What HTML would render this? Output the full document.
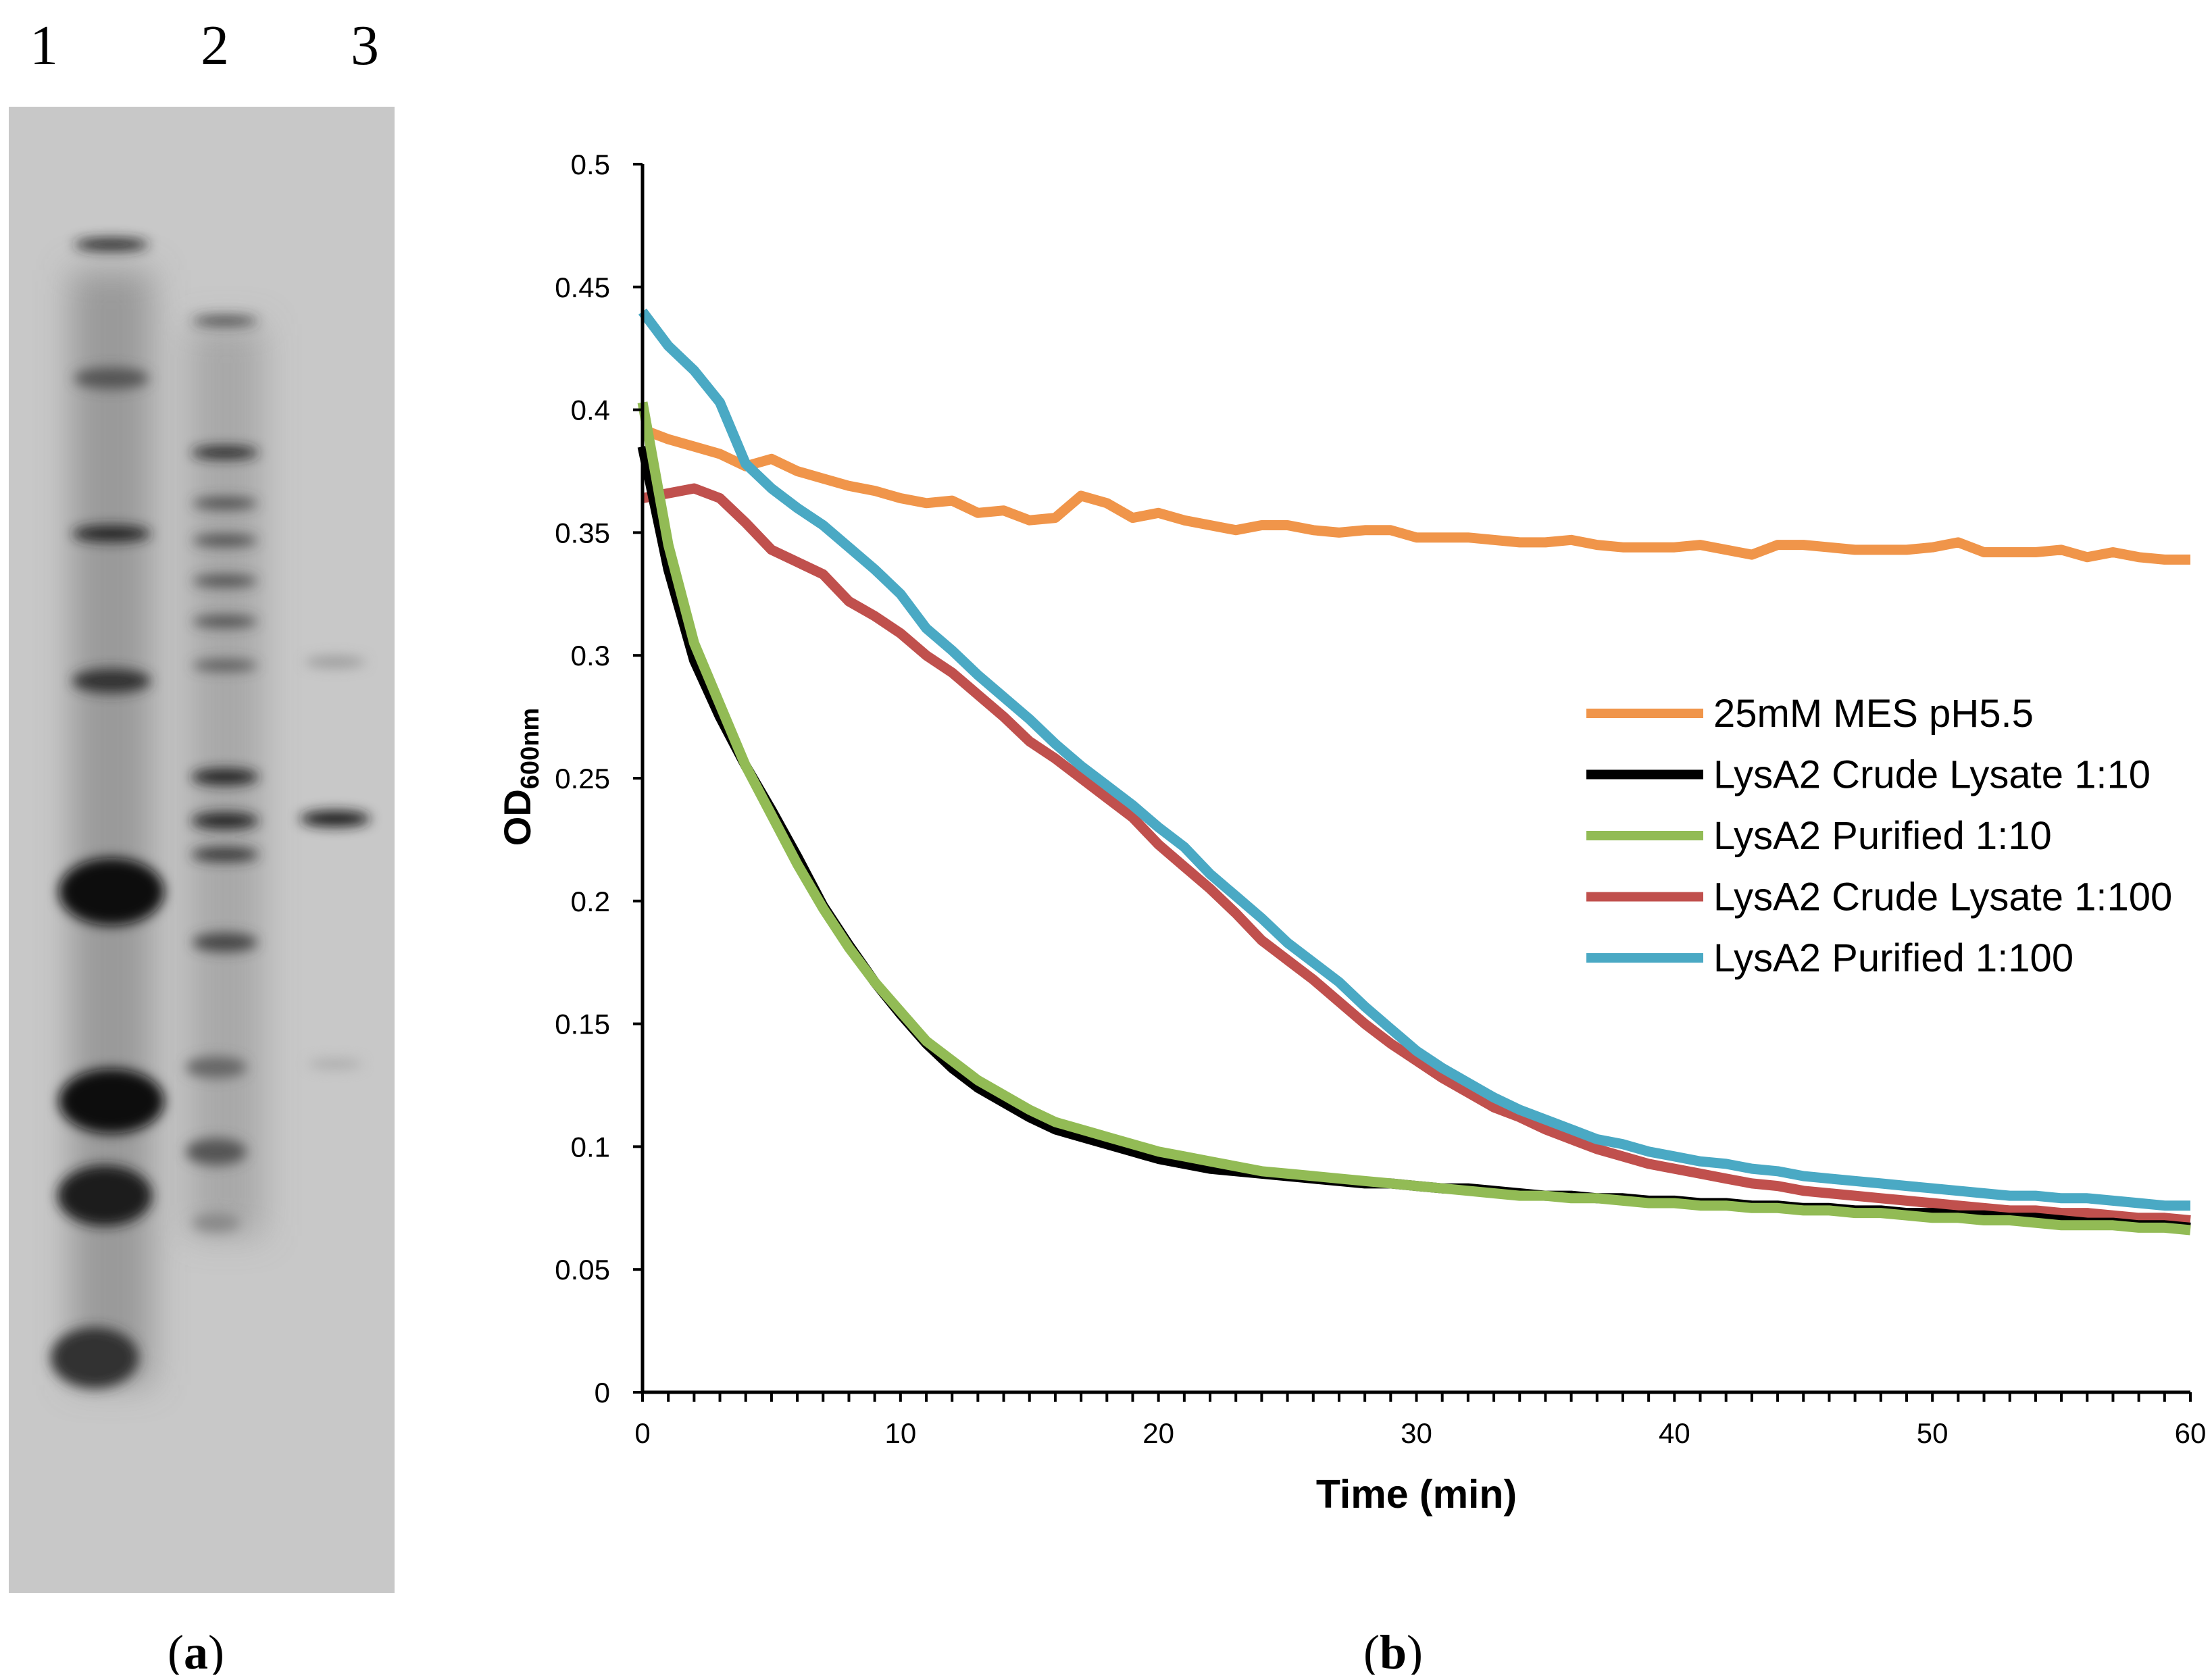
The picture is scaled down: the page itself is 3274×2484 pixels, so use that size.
<!DOCTYPE html>
<html><head><meta charset="utf-8"><style>
body{margin:0;background:#fff;width:3274px;height:2479px;overflow:hidden;font-family:"Liberation Sans",sans-serif}
</style></head><body>
<svg width="3274" height="2479" viewBox="0 0 3274 2479">
<defs>
<filter id="blur" x="-50%" y="-50%" width="200%" height="200%"><feGaussianBlur stdDeviation="9"/></filter>
<filter id="blur2" x="-50%" y="-50%" width="200%" height="200%"><feGaussianBlur stdDeviation="25"/></filter>
</defs>
<g>
<rect x="13" y="158" width="571" height="2200" fill="#c8c8c8"/>
<g filter="url(#blur2)">
<rect x="105" y="400" width="120" height="1650" fill="#7a7a7a" opacity="0.6"/>
<rect x="280" y="480" width="110" height="1350" fill="#8a8a8a" opacity="0.5"/>
</g>
<g filter="url(#blur)">
<ellipse cx="165" cy="362" rx="55" ry="9" fill="#222"/>
<ellipse cx="165" cy="560" rx="55" ry="16" fill="#555"/>
<ellipse cx="165" cy="790" rx="58" ry="12" fill="#222"/>
<ellipse cx="165" cy="1008" rx="58" ry="18" fill="#333"/>
<ellipse cx="165" cy="1320" rx="78" ry="50" fill="#111"/>
<ellipse cx="165" cy="1630" rx="78" ry="48" fill="#0a0a0a"/>
<ellipse cx="155" cy="1770" rx="70" ry="45" fill="#1a1a1a"/>
<ellipse cx="140" cy="2010" rx="65" ry="45" fill="#333"/>
<ellipse cx="333" cy="475" rx="48" ry="6" fill="#333"/>
<ellipse cx="333" cy="670" rx="50" ry="9" fill="#222"/>
<ellipse cx="333" cy="745" rx="48" ry="8" fill="#444"/>
<ellipse cx="333" cy="800" rx="48" ry="8" fill="#444"/>
<ellipse cx="333" cy="860" rx="48" ry="8" fill="#444"/>
<ellipse cx="333" cy="920" rx="48" ry="8" fill="#444"/>
<ellipse cx="333" cy="985" rx="48" ry="8" fill="#555"/>
<ellipse cx="333" cy="1150" rx="50" ry="12" fill="#222"/>
<ellipse cx="333" cy="1215" rx="50" ry="12" fill="#222"/>
<ellipse cx="333" cy="1265" rx="50" ry="10" fill="#333"/>
<ellipse cx="333" cy="1395" rx="48" ry="14" fill="#444"/>
<ellipse cx="320" cy="1580" rx="45" ry="16" fill="#666"/>
<ellipse cx="320" cy="1705" rx="45" ry="20" fill="#555"/>
<ellipse cx="320" cy="1810" rx="35" ry="14" fill="#888"/>
<ellipse cx="496" cy="980" rx="45" ry="8" fill="#999"/>
<ellipse cx="496" cy="1212" rx="52" ry="12" fill="#1a1a1a"/>
<ellipse cx="496" cy="1575" rx="40" ry="7" fill="#aaa"/>
</g>
<text x="65" y="95" font-family="Liberation Serif" font-size="84" text-anchor="middle">1</text>
<text x="318" y="95" font-family="Liberation Serif" font-size="84" text-anchor="middle">2</text>
<text x="540" y="95" font-family="Liberation Serif" font-size="84" text-anchor="middle">3</text>
<text x="290" y="2470" font-family="Liberation Serif" font-size="72" text-anchor="middle">(<tspan font-weight="bold">a</tspan>)</text>
<text x="2062" y="2470" font-family="Liberation Serif" font-size="72" text-anchor="middle">(<tspan font-weight="bold">b</tspan>)</text>
</g>
<g id="chart"></g>
</svg>
<script>
const times = Array.from({length:61},(_,i)=>i);
const seriesNames = ["25mM MES pH5.5","LysA2 Crude Lysate 1:10","LysA2 Purified 1:10","LysA2 Crude Lysate 1:100","LysA2 Purified 1:100"];
const mesValues = [0.392,0.388,0.385,0.382,0.377,0.380,0.375,0.372,0.369,0.367,0.364,0.362,0.363,0.358,0.359,0.355,0.356,0.365,0.362,0.356,0.358,0.355,0.353,0.351,0.353,0.353,0.351,0.350,0.351,0.351,0.348,0.348,0.348,0.347,0.346,0.346,0.347,0.345,0.344,0.344,0.344,0.345,0.343,0.341,0.345,0.345,0.344,0.343,0.343,0.343,0.344,0.346,0.342,0.342,0.342,0.343,0.340,0.342,0.340,0.339,0.339];
const crude10Values = [0.385,0.335,0.298,0.275,0.255,0.237,0.218,0.198,0.182,0.167,0.154,0.142,0.132,0.124,0.118,0.112,0.107,0.104,0.101,0.098,0.095,0.093,0.091,0.090,0.089,0.088,0.087,0.086,0.085,0.085,0.084,0.083,0.083,0.082,0.081,0.080,0.080,0.079,0.079,0.078,0.078,0.077,0.077,0.076,0.076,0.075,0.075,0.074,0.074,0.073,0.073,0.072,0.072,0.071,0.071,0.070,0.069,0.069,0.068,0.068,0.067];
const pure10Values = [0.403,0.345,0.305,0.280,0.255,0.235,0.215,0.197,0.181,0.167,0.155,0.143,0.135,0.127,0.121,0.115,0.110,0.107,0.104,0.101,0.098,0.096,0.094,0.092,0.090,0.089,0.088,0.087,0.086,0.085,0.084,0.083,0.082,0.081,0.080,0.080,0.079,0.079,0.078,0.077,0.077,0.076,0.076,0.075,0.075,0.074,0.074,0.073,0.073,0.072,0.071,0.071,0.070,0.070,0.069,0.068,0.068,0.068,0.067,0.067,0.066];
const crude100Values = [0.364,0.366,0.368,0.364,0.354,0.343,0.338,0.333,0.322,0.316,0.309,0.300,0.293,0.284,0.275,0.265,0.258,0.250,0.242,0.234,0.223,0.214,0.205,0.195,0.184,0.176,0.168,0.159,0.150,0.142,0.135,0.128,0.122,0.116,0.112,0.107,0.103,0.099,0.096,0.093,0.091,0.089,0.087,0.085,0.084,0.082,0.081,0.080,0.079,0.078,0.077,0.076,0.075,0.074,0.074,0.073,0.073,0.072,0.071,0.071,0.070];
const pure100Values = [0.440,0.426,0.416,0.403,0.378,0.368,0.360,0.353,0.344,0.335,0.325,0.311,0.302,0.292,0.283,0.274,0.264,0.255,0.247,0.239,0.230,0.222,0.211,0.202,0.193,0.183,0.175,0.167,0.157,0.148,0.139,0.132,0.126,0.120,0.115,0.111,0.107,0.103,0.101,0.098,0.096,0.094,0.093,0.091,0.090,0.088,0.087,0.086,0.085,0.084,0.083,0.082,0.081,0.080,0.080,0.079,0.079,0.078,0.077,0.076,0.076];
const yTicks = [0,0.05,0.1,0.15,0.2,0.25,0.3,0.35,0.4,0.45,0.5];
const yTickLabels = ["0","0.05","0.1","0.15","0.2","0.25","0.3","0.35","0.4","0.45","0.5"];
const xTicks = [0,10,20,30,40,50,60];

const NS="http://www.w3.org/2000/svg";
const X0=951,X1=3242,Y0=2061,Y1=243;
const xs=t=>X0+(t/60)*(X1-X0);
const ys=v=>Y0-(v/0.5)*(Y0-Y1);
const g=document.getElementById('chart');
function mk(tag,attrs){const e=document.createElementNS(NS,tag);for(const k in attrs)e.setAttribute(k,attrs[k]);g.appendChild(e);return e;}

const colors=["#f0954a","#000000","#92bb55","#c0504d","#4aa9c4"];
const allSeries=[mesValues,crude10Values,pure10Values,crude100Values,pure100Values];
const drawOrder=[0,3,4,1,2];
drawOrder.forEach(i=>{
  const d=allSeries[i].map((v,j)=>(j?'L':'M')+xs(times[j]).toFixed(1)+','+ys(v).toFixed(1)).join('');
  const p=mk('path',{d:d,fill:'none',stroke:colors[i],'stroke-width':15,'stroke-linejoin':'round'});
  
  
});

const ax=mk('path',{d:`M${X0},${Y1}L${X0},${Y0}L${X1},${Y0}`,fill:'none',stroke:'#000','stroke-width':5});


yTicks.forEach((v,i)=>{
  const t=mk('line',{x1:X0-14,x2:X0,y1:ys(v),y2:ys(v),stroke:'#000','stroke-width':4});
  
  
  const l=mk('text',{x:X0-48,y:ys(v)+15,'text-anchor':'end','font-size':42});
  l.textContent=yTickLabels[i];
  
  
});
times.forEach(t=>{
  const m=mk('line',{x1:xs(t),x2:xs(t),y1:Y0,y2:Y0+14,stroke:'#000','stroke-width':4});
  
  
});
xTicks.forEach(t=>{
  const l=mk('text',{x:xs(t),y:Y0+75,'text-anchor':'middle','font-size':42});
  l.textContent=t;
  
  
});
const xt=mk('text',{x:(X0+X1)/2,y:2232,'text-anchor':'middle','font-size':59,'font-weight':'bold'});
xt.textContent='Time (min)';


const yt=mk('text',{transform:'translate(785,1150) rotate(-90)','text-anchor':'middle','font-size':56,'font-weight':'bold'});
yt.innerHTML='OD<tspan font-size="38" dy="12">600nm</tspan>';



seriesNames.forEach((n,i)=>{
  const y=1056+i*90.5;
  const ln=mk('line',{x1:2348,x2:2521,y1:y,y2:y,stroke:colors[i],'stroke-width':14});
  
  
  const tx=mk('text',{x:2536,y:y+20,'font-size':58});
  tx.textContent=n;
  
  
});
</script>
</body></html>
